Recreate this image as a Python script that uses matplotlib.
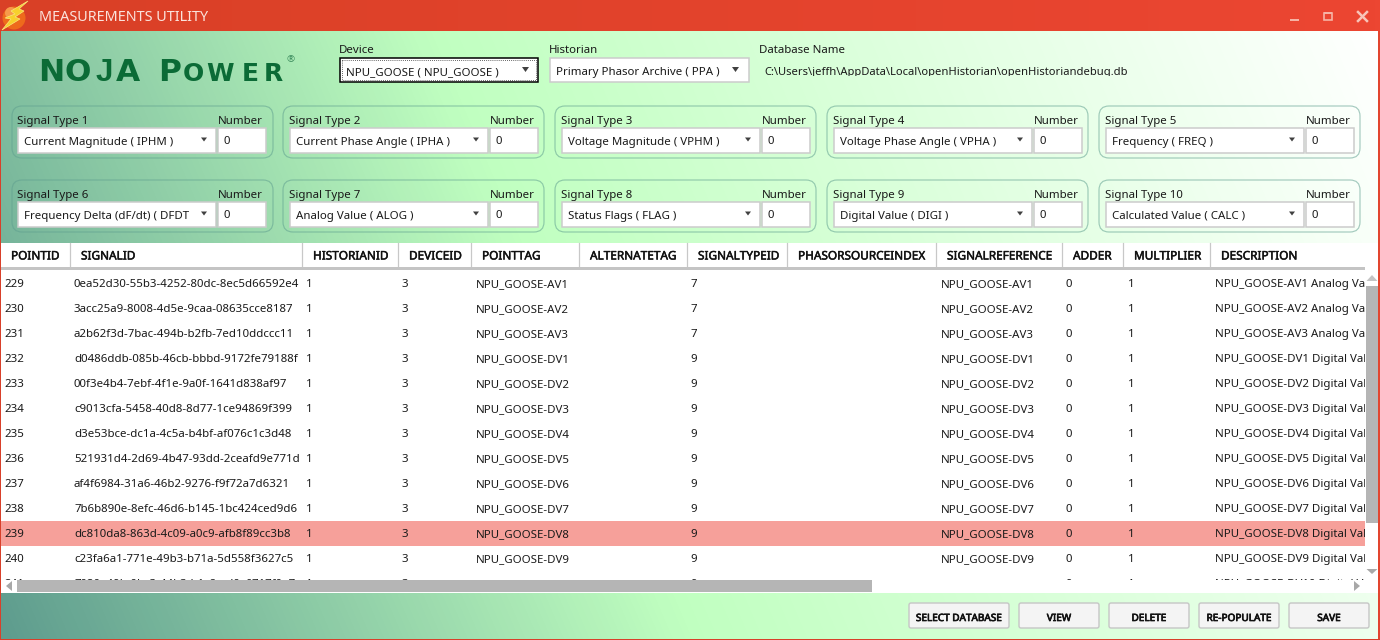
import numpy as np
import matplotlib
matplotlib.use('Agg')
import matplotlib.pyplot as plt
import matplotlib.patheffects as pe
from matplotlib.patches import Rectangle, FancyBboxPatch, Polygon, Circle
from matplotlib.colors import LinearSegmentedColormap

plt.rcParams['font.family'] = ['Noto Sans', 'DejaVu Sans']

WIDTH = 1380
HEIGHT = 640
FS = 8.25

columns = ['POINTID', 'SIGNALID', 'HISTORIANID', 'DEVICEID', 'POINTTAG', 'ALTERNATETAG', 'SIGNALTYPEID',
           'PHASORSOURCEINDEX', 'SIGNALREFERENCE', 'ADDER', 'MULTIPLIER', 'DESCRIPTION']
column_edges = [1, 70, 302, 398, 471, 579, 687, 787, 936, 1062, 1123, 1210]

point_ids = ['229', '230', '231', '232', '233', '234', '235', '236', '237', '238', '239', '240', '241']
signal_ids = ['0ea52d30-55b3-4252-80dc-8ec5d66592e4', '3acc25a9-8008-4d5e-9caa-08635cce8187',
              'a2b62f3d-7bac-494b-b2fb-7ed10ddccc11', 'd0486ddb-085b-46cb-bbbd-9172fe79188f',
              '00f3e4b4-7ebf-4f1e-9a0f-1641d838af97', 'c9013cfa-5458-40d8-8d77-1ce94869f399',
              'd3e53bce-dc1a-4c5a-b4bf-af076c1c3d48', '521931d4-2d69-4b47-93dd-2ceafd9e771d',
              'af4f6984-31a6-46b2-9276-f9f72a7d6321', '7b6b890e-8efc-46d6-b145-1bc424ced9d6',
              'dc810da8-863d-4c09-a0c9-afb8f89cc3b8', 'c23fa6a1-771e-49b3-b71a-5d558f3627c5',
              '7020a49b-0bc3-44b3-b1c8-ad0c6717f0e7']
point_tags = ['AV1', 'AV2', 'AV3', 'DV1', 'DV2', 'DV3', 'DV4', 'DV5', 'DV6', 'DV7', 'DV8', 'DV9', 'DV10']
signal_type_ids = ['7', '7', '7', '9', '9', '9', '9', '9', '9', '9', '9', '9', '9']
historian_id = '1'
device_id = '3'
adder = '0'
multiplier = '1'
selected_point = '239'

signal_labels = ['Signal Type 1', 'Signal Type 2', 'Signal Type 3', 'Signal Type 4', 'Signal Type 5',
                 'Signal Type 6', 'Signal Type 7', 'Signal Type 8', 'Signal Type 9', 'Signal Type 10']
signal_values = ['Current Magnitude ( IPHM )', 'Current Phase Angle ( IPHA )', 'Voltage Magnitude ( VPHM )',
                 'Voltage Phase Angle ( VPHA )', 'Frequency ( FREQ )', 'Frequency Delta (dF/dt) ( DFDT',
                 'Analog Value ( ALOG )', 'Status Flags ( FLAG )', 'Digital Value ( DIGI )',
                 'Calculated Value ( CALC )']
signal_numbers = ['0', '0', '0', '0', '0', '0', '0', '0', '0', '0']
button_labels = ['SELECT DATABASE', 'VIEW', 'DELETE', 'RE-POPULATE', 'SAVE']
database_path = r'C:\Users\jeffh\AppData\Local\openHistorian\openHistoriandebug.db'

TEXT = '#1a1a1a'
BORDER = '#cccccc'
SCROLL = '#b5b5b5'


def label(ax, x, y, s, size=FS, color=TEXT, **kw):
    # y is the visual middle of the capitals, text sits on a baseline so rows stay even
    return ax.text(x, y + 4, s, fontsize=size, color=color, va='baseline', ha=kw.pop('ha', 'left'), **kw)


def box(ax, x0, y0, x1, y1, fc, ec='none', lw=0, z=2, **kw):
    r = Rectangle((x0, y0), x1 - x0, y1 - y0, facecolor=fc, edgecolor=ec, linewidth=lw, zorder=z, **kw)
    ax.add_patch(r)
    return r


def arrow(ax, cx, cy, w=3.5, h=2.5, color='#404040', z=5):
    ax.add_patch(Polygon([(cx - w, cy - h), (cx + w, cy - h), (cx, cy + h)], closed=True,
                         facecolor=color, edgecolor='none', zorder=z))


def draw_background(ax):
    xx, yy = np.meshgrid(np.arange(WIDTH), np.arange(HEIGHT))
    t = (xx + 0.43 * (HEIGHT - yy)) / (WIDTH + 0.43 * (HEIGHT - 31))
    cmap = LinearSegmentedColormap.from_list('bg', [(0, '#5e9c8e'), (0.42, '#c0ffc0'), (1, '#ffffff')])
    ax.imshow(t, cmap=cmap, vmin=0, vmax=1, extent=(0, WIDTH, HEIGHT, 0), aspect='auto', zorder=0)


def draw_title_bar(ax):
    g = np.linspace(0, 1, 256).reshape(1, -1)
    cmap = LinearSegmentedColormap.from_list('title', ['#d94026', '#ec4632'])
    ax.imshow(g, cmap=cmap, extent=(0, WIDTH, 31, 0), aspect='auto', zorder=1)
    # window border
    box(ax, 0, 31, 1, HEIGHT, '#d8402a', z=8)
    box(ax, 1378, 31, WIDTH, HEIGHT, '#e2452f', z=8)
    box(ax, 0, 639, WIDTH, HEIGHT, '#d8402a', z=8)
    label(ax, 39, 17, 'MEASUREMENTS UTILITY', size=10.4, color='#fbe3dc', zorder=6)

    # app icon
    ax.add_patch(Circle((14, 18), 11.5, facecolor='#ee6a1c', edgecolor='none', zorder=3))
    ax.add_patch(Circle((11, 13), 6, facecolor='#f79a4a', edgecolor='none', zorder=3))
    ax.add_patch(Polygon([(28, 1), (11, 11), (15, 14), (5, 18), (11, 19), (2, 30), (20, 19), (15, 17), (24, 11), (19, 9)],
                         closed=True, facecolor='#f7d02c', edgecolor='#f9e87a', linewidth=0.5, zorder=4))

    # window controls
    box(ax, 1290, 18.5, 1299, 21, '#f6b3a5', z=5)
    box(ax, 1323.5, 12.5, 1331.5, 19.5, 'none', ec='#f6b3a5', lw=1.2, z=5)
    box(ax, 1323.5, 12, 1331.5, 14, '#f6b3a5', z=5)
    ax.plot([1358, 1367], [12, 21], color='#f8c4b8', lw=1.8, zorder=5)
    ax.plot([1358, 1367], [21, 12], color='#f8c4b8', lw=1.8, zorder=5)


def draw_logo(ax):
    green = '#0b6b36'
    large = 22.5
    small = 18
    for x, ch, size, font in [(38, 'N', large, 'DejaVu Sans'), (65, 'O', large, 'DejaVu Sans'),
                              (96, 'J', large, 'Liberation Sans'), (116, 'A', large, 'DejaVu Sans'),
                              (158, 'P', large, 'DejaVu Sans'), (183, 'O', small, 'DejaVu Sans'),
                              (206, 'W', small, 'DejaVu Sans'), (242, 'E', small, 'DejaVu Sans'),
                              (264, 'R', small, 'DejaVu Sans')]:
        ax.text(x, 81, ch, fontsize=size, family=font, fontweight='bold', color=green,
                ha='left', va='baseline', zorder=3)
    ax.text(291, 62, '®', fontsize=7, color='#3a8a5c', ha='center', va='baseline', zorder=3)


def draw_top_controls(ax):
    label(ax, 339, 49, 'Device', zorder=3)
    box(ax, 339.5, 57.5, 538, 82, 'white', ec='black', lw=1.1, z=2)
    box(ax, 341.5, 59.5, 536, 80, 'none', ec='#333333', lw=0.6, z=3, linestyle=(0, (1, 1.5)))
    label(ax, 346, 71, 'NPU_GOOSE ( NPU_GOOSE )', zorder=4)
    arrow(ax, 525.5, 69.5)

    label(ax, 549, 49, 'Historian', zorder=3)
    box(ax, 549.5, 57.5, 749, 82, 'white', ec=BORDER, lw=1.1, z=2)
    label(ax, 556, 71, 'Primary Phasor Archive ( PPA )', zorder=4)
    arrow(ax, 735.5, 69.5)

    label(ax, 759, 49, 'Database Name', zorder=3)
    # bottom of the path is cut by its box in the app
    t = label(ax, 764, 71, database_path, size=8.05, zorder=4, clip_on=True)
    t.set_clip_path(Rectangle((750, 60), 500, 15.5, transform=ax.transData))


def draw_signal_panels(ax):
    panel_lefts = [12, 283, 555, 827, 1099]
    panel_tops = [106, 180]
    panel_w = 261
    for i in range(len(signal_labels)):
        px = panel_lefts[i % 5]
        py = panel_tops[i // 5]
        ax.add_patch(FancyBboxPatch((px + 9, py + 9), panel_w - 18, 52 - 18, boxstyle='round,pad=9,rounding_size=10',
                                    facecolor='none', edgecolor='#5f9f8f', alpha=0.55, linewidth=0.85, zorder=2))
        cx = px + (5 if i % 5 == 0 else 6)
        label(ax, cx, py + 14, signal_labels[i], zorder=3)
        label(ax, cx + 200.5, py + 14, 'Number', zorder=3)
        box(ax, cx + 0.5, py + 21.5, cx + 199, py + 47, 'white', ec=BORDER, lw=1.1, z=3)
        box(ax, cx + 201, py + 21.5, cx + 249, py + 47, 'white', ec=BORDER, lw=1.1, z=3)
        label(ax, cx + 7, py + 35, signal_values[i], zorder=4)
        arrow(ax, cx + 187, py + 33.5, w=3, h=2)
        label(ax, cx + 206, py + 34, signal_numbers[i], zorder=4)


def draw_table(ax):
    box(ax, 1, 243, 1378, 593, 'white', z=2)
    # header
    for i, name in enumerate(columns):
        x = column_edges[i]
        if i > 0:
            ax.plot([x, x], [243, 267], color='#c8c8c8', lw=0.9, zorder=3)
        t = label(ax, x + 11 if i > 0 else 11, 255.5, name, size=8.5, color='#111111', zorder=4)
        t.set_path_effects([pe.withStroke(linewidth=0.35, foreground='#111111')])
    box(ax, 1, 267, 1365, 270, '#c4c4c4', z=3)

    clip = Rectangle((1, 270), 1364, 309.5, transform=ax.transData)
    for r, pid in enumerate(point_ids):
        y = 283 + r * 25
        if pid == selected_point:
            box(ax, 1, y - 12.5, 1365, y + 12.5, '#f6a09a', z=3)
        tag = 'NPU_GOOSE-' + point_tags[r]
        kind = 'Analog Value' if tag[10] == 'A' else 'Digital Value'
        cells = [(4, pid), (74, signal_ids[r]), (306, historian_id), (402, device_id), (476, tag),
                 (690, signal_type_ids[r]), (941, tag), (1066, adder), (1128, multiplier),
                 (1215, tag + ' ' + kind)]
        for x, s in cells:
            t = label(ax, x, y, s, zorder=4, clip_on=True)
            t.set_clip_path(clip)

    # scroll bars
    box(ax, 1366, 286, 1378, 523, SCROLL, z=5)
    ax.add_patch(Polygon([(1366.5, 281), (1377.5, 281), (1372, 275)], closed=True, facecolor='#c4c4c4', edgecolor='none', zorder=5))
    ax.add_patch(Polygon([(1366.5, 569), (1377.5, 569), (1372, 574)], closed=True, facecolor='#a8a8a8', edgecolor='none', zorder=5))
    box(ax, 17, 580, 872, 592, SCROLL, z=5)
    ax.add_patch(Polygon([(12, 581), (12, 591), (6, 586)], closed=True, facecolor='#a8a8a8', edgecolor='none', zorder=5))
    ax.add_patch(Polygon([(1354, 581), (1354, 591), (1360, 586)], closed=True, facecolor='#a8a8a8', edgecolor='none', zorder=5))


def draw_buttons(ax):
    lefts = [909, 1019, 1109, 1199, 1289]
    rights = [1009, 1099, 1189, 1279, 1369]
    for x0, x1, s in zip(lefts, rights, button_labels):
        ax.add_patch(FancyBboxPatch((x0 + 2, 605), x1 - x0 - 4, 21, boxstyle='round,pad=2,rounding_size=2',
                                    facecolor='#f4f4f4', edgecolor='#c6c6c6', linewidth=1, zorder=3))
        t = ax.text((x0 + x1) / 2, 621, s, fontsize=7.2, color='#111111', ha='center', va='baseline', zorder=4)
        t.set_path_effects([pe.withStroke(linewidth=0.5, foreground='#111111')])


def main():
    fig = plt.figure(figsize=(WIDTH / 100, HEIGHT / 100), dpi=100)
    ax = fig.add_axes([0, 0, 1, 1])
    draw_background(ax)
    draw_title_bar(ax)
    draw_logo(ax)
    draw_top_controls(ax)
    draw_signal_panels(ax)
    draw_table(ax)
    draw_buttons(ax)
    ax.set_xlim(0, WIDTH)
    ax.set_ylim(HEIGHT, 0)
    ax.axis('off')
    fig.savefig('out.png', dpi=100)


if '__main__' == __name__:
    main()
